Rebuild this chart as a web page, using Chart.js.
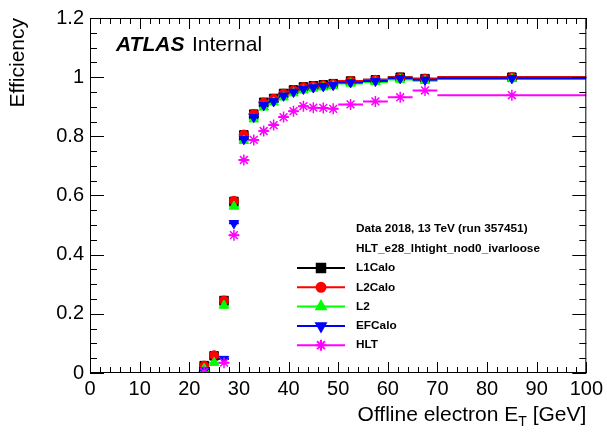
<!DOCTYPE html>
<html>
<head>
<meta charset="utf-8">
<script src="https://cdn.jsdelivr.net/npm/chart.js@4/dist/chart.umd.min.js"></script>
<style>
    html, body { margin: 0; padding: 0; background: #fff; }
    #wrap { width: 607px; height: 435px; }
</style>
</head>
<body>
<div id="wrap"><canvas id="chart-eff" width="607" height="435"></canvas></div>
<script>
// bins in offline electron ET [GeV]
const binCenters = [23, 25, 27, 29, 31, 33, 35, 37, 39, 41, 43, 45, 47, 49, 52.5, 57.5, 62.5, 67.5, 85]
const binHalfWidths = [1, 1, 1, 1, 1, 1, 1, 1, 1, 1, 1, 1, 1, 1, 2.5, 2.5, 2.5, 2.5, 15]

// efficiency per trigger step
const l1Calo = [0.025, 0.058, 0.245, 0.580, 0.805, 0.875, 0.915, 0.928, 0.945, 0.957, 0.967, 0.971, 0.974, 0.978, 0.987, 0.991, 1.000, 0.995, 1.000]
const l2Calo = [0.025, 0.060, 0.245, 0.582, 0.806, 0.876, 0.914, 0.927, 0.944, 0.956, 0.966, 0.970, 0.973, 0.977, 0.987, 0.991, 0.999, 0.995, 1.000]
const l2 = [0.015, 0.035, 0.228, 0.563, 0.785, 0.858, 0.898, 0.915, 0.932, 0.946, 0.956, 0.962, 0.966, 0.970, 0.979, 0.984, 0.992, 0.988, 0.994]
const efCalo = [0.008, null, 0.047, 0.506, 0.790, 0.865, 0.905, 0.918, 0.937, 0.950, 0.960, 0.965, 0.969, 0.973, 0.982, 0.987, 0.996, 0.991, 0.996]
const hlt = [0.004, null, 0.035, 0.466, 0.720, 0.788, 0.818, 0.838, 0.865, 0.885, 0.902, 0.897, 0.896, 0.893, 0.908, 0.918, 0.932, 0.955, 0.939]

const xTicks = [0, 10, 20, 30, 40, 50, 60, 70, 80, 90, 100]
const yTicks = [0, 0.2, 0.4, 0.6, 0.8, 1, 1.2]

const legendLines = ['Data 2018, 13 TeV (run 357451)', 'HLT_e28_lhtight_nod0_ivarloose']

const FONT = '"Liberation Sans", Arial, Helvetica, sans-serif'

const series = [
    { label: 'L1Calo', values: l1Calo, color: '#000000', style: 'rect', radius: 6, rot: 0, order: 5 },
    { label: 'L2Calo', values: l2Calo, color: '#ff0000', style: 'circle', radius: 4.5, rot: 0, order: 4 },
    { label: 'L2', values: l2, color: '#00ff00', style: 'triangle', radius: 5.5, rot: 0, order: 3 },
    { label: 'EFCalo', values: efCalo, color: '#0000ff', style: 'triangle', radius: 5.5, rot: 180, order: 2 },
    { label: 'HLT', values: hlt, color: '#ff00ff', style: 'star', radius: 5.5, rot: 0, order: 1 },
]

function toPoints(values) {
    return binCenters.map((x, i) => ({ x: x, y: values[i], xe: binHalfWidths[i] }))
}

// horizontal error bars (bin widths), drawn under the markers
const binBars = {
    id: 'binBars',
    beforeDatasetsDraw(chart) {
        const ctx = chart.ctx
        const xs = chart.scales.x
        const ys = chart.scales.y
        const area = chart.chartArea
        ctx.save()
        ctx.beginPath()
        ctx.rect(area.left, area.top, area.right - area.left, area.bottom - area.top)
        ctx.clip()
        ctx.lineWidth = 2
        chart.data.datasets.slice().sort((a, b) => b.order - a.order).forEach(ds => {
            ctx.strokeStyle = ds.borderColor
            ds.data.forEach(p => {
                if (p.y === null) return
                const y = ys.getPixelForValue(p.y)
                ctx.beginPath()
                ctx.moveTo(xs.getPixelForValue(p.x - p.xe), y)
                ctx.lineTo(xs.getPixelForValue(p.x + p.xe), y)
                ctx.stroke()
            })
        })
        ctx.restore()
    }
}

// ROOT style frame, inward ticks, titles, labels and legend
const rootFrame = {
    id: 'rootFrame',
    afterDraw(chart) {
        const ctx = chart.ctx
        const xs = chart.scales.x
        const ys = chart.scales.y
        const a = chart.chartArea
        ctx.save()
        ctx.strokeStyle = '#000'
        ctx.lineWidth = 1

        ctx.strokeRect(a.left + 0.5, a.top + 0.5, a.right - a.left - 1, a.bottom - a.top - 1)

        ctx.beginPath()
        for (let v = 0; v <= 100; v += 2) {
            const px = Math.round(xs.getPixelForValue(v)) + 0.5
            const len = v % 10 === 0 ? 11 : 6
            ctx.moveTo(px, a.bottom)
            ctx.lineTo(px, a.bottom - len)
            ctx.moveTo(px, a.top)
            ctx.lineTo(px, a.top + len)
        }
        for (let i = 0; i <= 24; i++) {
            const py = Math.round(ys.getPixelForValue(i * 0.05)) + 0.5
            const len = i % 4 === 0 ? 14 : 7
            ctx.moveTo(a.left, py)
            ctx.lineTo(a.left + len, py)
            ctx.moveTo(a.right, py)
            ctx.lineTo(a.right - len, py)
        }
        ctx.stroke()

        ctx.fillStyle = '#000'
        // y title
        ctx.save()
        ctx.translate(24, a.top)
        ctx.rotate(-Math.PI / 2)
        ctx.font = '21px ' + FONT
        ctx.textAlign = 'right'
        ctx.textBaseline = 'alphabetic'
        ctx.fillText('Efficiency', 0, 0)
        ctx.restore()

        // x title with subscript
        ctx.font = '21px ' + FONT
        ctx.textBaseline = 'alphabetic'
        ctx.textAlign = 'left'
        const t1 = 'Offline electron E'
        const t2 = 'T'
        const t3 = ' [GeV]'
        ctx.font = '14px ' + FONT
        const w2 = ctx.measureText(t2).width
        ctx.font = '21px ' + FONT
        const w1 = ctx.measureText(t1).width
        const w3 = ctx.measureText(t3).width
        let x0 = a.right - (w1 + w2 + w3)
        const base = 421
        ctx.fillText(t1, x0, base)
        ctx.font = '14px ' + FONT
        ctx.fillText(t2, x0 + w1, base + 5)
        ctx.font = '21px ' + FONT
        ctx.fillText(t3, x0 + w1 + w2, base)

        // ATLAS label
        ctx.font = 'italic bold 21px ' + FONT
        ctx.fillText('ATLAS', 116, 51)
        ctx.font = '21px ' + FONT
        ctx.fillText('Internal', 192, 51)

        // legend
        ctx.font = 'bold 11.8px ' + FONT
        ctx.textBaseline = 'middle'
        ctx.fillText(legendLines[0], 356, 229)
        ctx.fillText(legendLines[1], 356, 249)
        series.forEach((s, i) => {
            const y = 268 + i * 19.3
            ctx.strokeStyle = s.color
            ctx.lineWidth = 2
            ctx.beginPath()
            ctx.moveTo(297, y)
            ctx.lineTo(345, y)
            ctx.stroke()
            ctx.fillStyle = s.color
            Chart.helpers.drawPoint(ctx, {
                pointStyle: s.style, radius: s.radius, rotation: s.rot, borderWidth: s.style === 'star' ? 1.5 : 1
            }, 321, y)
            ctx.fillStyle = '#000'
            ctx.fillText(s.label, 356, y)
        })
        ctx.restore()
    }
}

new Chart(document.getElementById('chart-eff').getContext('2d'), {
    type: 'scatter',
    data: {
        datasets: series.map(s => ({
            label: s.label,
            data: toPoints(s.values),
            order: s.order,
            borderColor: s.color,
            backgroundColor: s.color,
            pointStyle: s.style,
            pointRadius: s.radius,
            pointRotation: s.rot,
            pointBorderWidth: s.style === 'star' ? 1.5 : 1,
            showLine: false,
        }))
    },
    options: {
        responsive: false,
        animation: false,
        events: [],
        layout: { padding: { top: 15, right: 19, left: 0, bottom: 0 } },
        plugins: {
            legend: { display: false },
            tooltip: { enabled: false },
        },
        scales: {
            x: {
                type: 'linear',
                min: 0,
                max: 100,
                afterFit: s => { s.height = 62 },
                afterBuildTicks: s => { s.ticks = xTicks.map(v => ({ value: v })) },
                grid: { display: false, drawTicks: false },
                border: { display: false },
                ticks: { color: '#000', padding: 4, maxRotation: 0, font: { family: FONT, size: 20 } },
            },
            y: {
                type: 'linear',
                min: 0,
                max: 1.2,
                afterFit: s => { s.width = 90 },
                afterBuildTicks: s => { s.ticks = yTicks.map(v => ({ value: v })) },
                grid: { display: false, drawTicks: false },
                border: { display: false },
                ticks: { color: '#000', padding: 6, font: { family: FONT, size: 20 }, callback: v => String(Math.round(v * 10) / 10) },
            }
        }
    },
    plugins: [binBars, rootFrame]
})
</script>
</body>
</html>
